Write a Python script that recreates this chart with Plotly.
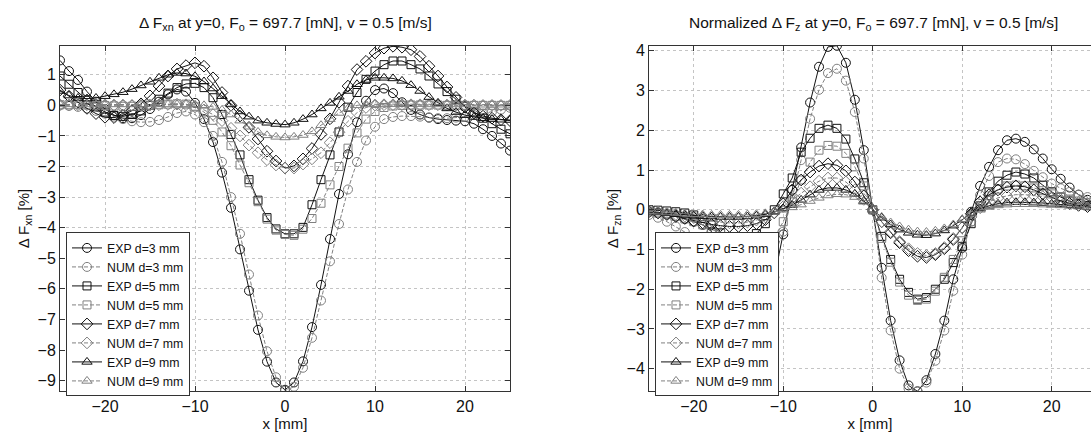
import plotly.graph_objects as go

# x positions [mm]
X_MM = list(range(-25, 26))

# ---------- Left panel: Delta F_xn [%] ----------
FXN_EXP_D3 = [1.47, 1.12, 0.83, 0.45, 0.12, -0.12, -0.32, -0.42, -0.42, -0.32, -0.12, 0.12, 0.36, 0.52, 0.45, 0.08,
              -0.45, -1.2, -2.2, -3.35, -4.71, -6.06, -7.34, -8.38, -9.06, -9.3, -9.06, -8.37, -7.25, -5.87, -4.37,
              -2.9, -1.6, -0.55, 0.15, 0.5, 0.55, 0.4, 0.1, -0.15, -0.3, -0.4, -0.45, -0.48, -0.5, -0.52, -0.6,
              -0.78, -1.0, -1.25, -1.48]
FXN_NUM_D3 = [0.0, -0.02, -0.05, -0.1, -0.18, -0.27, -0.37, -0.45, -0.52, -0.55, -0.54, -0.48, -0.38, -0.25, -0.2,
              -0.3, -0.55, -1.0, -1.85, -3.0, -4.2, -5.53, -6.87, -8.04, -8.89, -9.33, -9.2, -8.58, -7.6, -6.38,
              -5.1, -3.88, -2.75, -1.85, -1.15, -0.7, -0.45, -0.38, -0.35, -0.35, -0.37, -0.4, -0.42, -0.42, -0.4,
              -0.37, -0.32, -0.27, -0.2, -0.14, -0.08]
FXN_EXP_D5 = [0.96, 0.69, 0.42, 0.17, -0.05, -0.22, -0.33, -0.36, -0.3, -0.18, 0.0, 0.2, 0.4, 0.58, 0.7, 0.72,
              0.58, 0.25, -0.3, -0.95, -1.62, -2.43, -3.1, -3.67, -4.04, -4.2, -4.2, -3.99, -3.25, -2.43, -1.62,
              -0.87, -0.06, 0.42, 0.85, 1.12, 1.33, 1.45, 1.45, 1.33, 1.19, 0.96, 0.7, 0.45, 0.2, -0.02, -0.22,
              -0.42, -0.6, -0.78, -0.93]
FXN_NUM_D5 = [0.02, 0.02, 0.02, 0.01, 0.0, -0.01, -0.02, -0.03, -0.03, -0.02, 0.0, 0.02, 0.04, 0.05, 0.04, -0.05,
              -0.22, -0.49, -0.87, -1.32, -1.95, -2.53, -3.15, -3.72, -4.08, -4.22, -4.25, -4.05, -3.7, -3.2, -2.6,
              -2.0, -1.4, -0.9, -0.45, -0.2, -0.07, -0.02, 0.0, 0.01, 0.01, 0.01, 0.01, 0.0, 0.0, 0.0, 0.0, 0.0,
              0.0, 0.0, 0.0]
FXN_EXP_D7 = [0.5, 0.3, 0.1, -0.1, -0.27, -0.39, -0.4, -0.33, -0.17, 0.05, 0.31, 0.63, 0.96, 1.19, 1.3, 1.39, 1.28,
              0.9, 0.42, 0.0, -0.35, -0.72, -1.1, -1.5, -1.82, -2.05, -1.98, -1.75, -1.41, -0.95, -0.44, 0.1, 0.63,
              1.17, 1.44, 1.71, 1.87, 1.93, 1.9, 1.82, 1.6, 1.28, 0.96, 0.6, 0.26, -0.06, -0.25, -0.35, -0.42,
              -0.47, -0.5]
FXN_NUM_D7 = [0.02, 0.02, 0.02, 0.02, 0.02, 0.02, 0.01, 0.01, 0.0, 0.0, 0.01, 0.02, 0.03, 0.04, 0.02, -0.05, -0.15,
              -0.3, -0.5, -0.75, -1.0, -1.3, -1.55, -1.78, -1.95, -2.05, -2.05, -1.92, -1.75, -1.55, -1.22, -0.88,
              -0.52, -0.24, -0.07, 0.01, 0.02, 0.02, 0.02, 0.02, 0.02, 0.02, 0.02, 0.01, 0.01, 0.01, 0.01, 0.0,
              0.0, 0.0, 0.0]
FXN_EXP_D9 = [0.47, 0.32, 0.24, 0.22, 0.24, 0.3, 0.36, 0.43, 0.53, 0.65, 0.77, 0.9, 1.0, 1.06, 1.04, 0.95, 0.78,
              0.55, 0.3, 0.03, -0.2, -0.37, -0.5, -0.57, -0.61, -0.63, -0.57, -0.45, -0.3, -0.1, 0.08, 0.28, 0.47,
              0.69, 0.83, 0.9, 0.9, 0.88, 0.8, 0.66, 0.47, 0.27, 0.08, -0.1, -0.22, -0.32, -0.38, -0.42, -0.45,
              -0.47, -0.48]
FXN_NUM_D9 = [0.03, 0.03, 0.03, 0.03, 0.03, 0.03, 0.03, 0.03, 0.03, 0.03, 0.03, 0.03, 0.03, 0.03, 0.03, 0.02, 0.0,
              -0.05, -0.15, -0.3, -0.5, -0.7, -0.87, -0.98, -1.03, -1.05, -1.03, -0.97, -0.85, -0.65, -0.45, -0.25,
              -0.1, 0.0, 0.03, 0.04, 0.04, 0.04, 0.04, 0.04, 0.04, 0.03, 0.03, 0.03, 0.03, 0.03, 0.02, 0.02, 0.02,
              0.02, 0.02]

# ---------- Right panel: normalized Delta F_zn [%] ----------
FZN_EXP_D3 = [-0.05, -0.08, -0.12, -0.17, -0.23, -0.3, -0.38, -0.55, -0.79, -1.05, -1.35, -1.65, -1.9, -2.1, -1.7,
              -0.62, 0.5, 1.57, 2.7, 3.6, 4.1, 4.13, 3.7, 2.77, 1.5, 0.0, -1.46, -2.79, -3.79, -4.42, -4.57, -4.29,
              -3.63, -2.79, -1.75, -0.96, -0.05, 0.6, 1.08, 1.5, 1.75, 1.79, 1.71, 1.52, 1.29, 1.02, 0.78, 0.56,
              0.38, 0.25, 0.15]
FZN_NUM_D3 = [-0.13, -0.2, -0.3, -0.42, -0.56, -0.71, -0.88, -1.05, -1.22, -1.38, -1.5, -1.58, -1.6, -1.5, -1.15,
              -0.55, 0.3, 1.25, 2.29, 3.02, 3.44, 3.55, 3.25, 2.46, 1.29, 0.0, -1.71, -3.04, -4.0, -4.5, -4.57,
              -4.35, -3.8, -3.04, -2.04, -1.13, -0.3, 0.37, 0.85, 1.2, 1.29, 1.27, 1.15, 0.98, 0.82, 0.66, 0.54,
              0.45, 0.38, 0.32, 0.27]
FZN_EXP_D5 = [0.0, -0.01, -0.03, -0.05, -0.08, -0.13, -0.22, -0.38, -0.58, -0.75, -0.8, -0.78, -0.6, -0.35, 0.0,
              0.4, 0.8, 1.45, 1.8, 2.05, 2.13, 2.05, 1.78, 1.28, 0.68, 0.0, -0.67, -1.25, -1.75, -2.08, -2.25,
              -2.21, -2.0, -1.75, -1.33, -0.92, -0.35, 0.1, 0.45, 0.72, 0.87, 0.95, 0.9, 0.8, 0.62, 0.45, 0.32,
              0.22, 0.15, 0.1, 0.06]
FZN_NUM_D5 = [-0.05, -0.08, -0.12, -0.17, -0.23, -0.3, -0.38, -0.48, -0.6, -0.72, -0.85, -0.95, -1.0, -0.95, -0.7,
              -0.3, 0.2, 0.75, 1.2, 1.5, 1.62, 1.6, 1.42, 1.08, 0.6, 0.0, -0.72, -1.32, -1.82, -2.15, -2.28, -2.25,
              -2.05, -1.7, -1.25, -0.78, -0.3, 0.1, 0.35, 0.52, 0.6, 0.62, 0.6, 0.55, 0.48, 0.4, 0.33, 0.27, 0.22,
              0.18, 0.14]
FZN_EXP_D7 = [-0.05, -0.08, -0.12, -0.17, -0.22, -0.28, -0.33, -0.37, -0.4, -0.42, -0.42, -0.4, -0.35, -0.25, -0.08,
              0.15, 0.5, 0.75, 0.95, 1.1, 1.16, 1.12, 0.98, 0.7, 0.35, 0.0, -0.3, -0.58, -0.83, -1.03, -1.17, -1.2,
              -1.13, -0.98, -0.75, -0.45, -0.1, 0.2, 0.38, 0.5, 0.57, 0.6, 0.58, 0.5, 0.4, 0.3, 0.22, 0.16, 0.11,
              0.08, 0.05]
FZN_NUM_D7 = [-0.04, -0.06, -0.09, -0.12, -0.16, -0.2, -0.24, -0.28, -0.31, -0.33, -0.33, -0.31, -0.26, -0.18,
              -0.07, 0.08, 0.25, 0.42, 0.58, 0.72, 0.8, 0.8, 0.7, 0.5, 0.26, 0.0, -0.3, -0.55, -0.8, -0.98, -1.1,
              -1.15, -1.1, -0.95, -0.72, -0.45, -0.18, 0.05, 0.2, 0.3, 0.35, 0.38, 0.38, 0.36, 0.33, 0.3, 0.26,
              0.22, 0.19, 0.16, 0.13]
FZN_EXP_D9 = [-0.05, -0.07, -0.09, -0.11, -0.13, -0.15, -0.16, -0.17, -0.18, -0.18, -0.18, -0.17, -0.15, -0.11,
              -0.05, 0.03, 0.12, 0.25, 0.38, 0.5, 0.55, 0.55, 0.5, 0.4, 0.22, 0.0, -0.2, -0.37, -0.5, -0.58, -0.63,
              -0.64, -0.6, -0.52, -0.4, -0.25, -0.08, 0.03, 0.1, 0.15, 0.18, 0.19, 0.19, 0.18, 0.17, 0.15, 0.13,
              0.11, 0.09, 0.07, 0.05]
FZN_NUM_D9 = [-0.04, -0.05, -0.07, -0.08, -0.1, -0.11, -0.12, -0.13, -0.13, -0.13, -0.13, -0.12, -0.11, -0.09,
              -0.05, 0.0, 0.06, 0.13, 0.22, 0.3, 0.36, 0.39, 0.38, 0.32, 0.2, 0.0, -0.18, -0.32, -0.42, -0.5, -0.55,
              -0.56, -0.53, -0.47, -0.37, -0.24, -0.1, 0.0, 0.07, 0.11, 0.13, 0.14, 0.14, 0.14, 0.13, 0.12, 0.11,
              0.1, 0.08, 0.07, 0.06]

LEGEND_NAMES = ["EXP d=3 mm", "NUM d=3 mm", "EXP d=5 mm", "NUM d=5 mm",
                "EXP d=7 mm", "NUM d=7 mm", "EXP d=9 mm", "NUM d=9 mm"]
LEFT_SERIES = [FXN_EXP_D3, FXN_NUM_D3, FXN_EXP_D5, FXN_NUM_D5, FXN_EXP_D7, FXN_NUM_D7, FXN_EXP_D9, FXN_NUM_D9]
RIGHT_SERIES = [FZN_EXP_D3, FZN_NUM_D3, FZN_EXP_D5, FZN_NUM_D5, FZN_EXP_D7, FZN_NUM_D7, FZN_EXP_D9, FZN_NUM_D9]

SYMBOLS = ["circle-open", "circle-open", "square-open", "square-open",
           "diamond-open", "diamond-open", "triangle-up-open", "triangle-up-open"]
SIZES = [9, 9, 8, 8, 9, 9, 9, 9]
EXP_COLOR = "#111111"
NUM_COLOR = "#808080"

FONT = "Arial, 'Liberation Sans', Helvetica, sans-serif"
W, H = 1091, 438

fig = go.Figure()

for panel, series, xa, ya, leg in [(0, LEFT_SERIES, "x", "y", "legend"),
                                   (1, RIGHT_SERIES, "x2", "y2", "legend2")]:
    for i, (name, vals) in enumerate(zip(LEGEND_NAMES, series)):
        is_exp = (i % 2 == 0)
        col = EXP_COLOR if is_exp else NUM_COLOR
        fig.add_trace(go.Scatter(
            x=X_MM, y=vals, name=name, mode="lines+markers",
            xaxis=xa, yaxis=ya, legend=leg,
            line=dict(color=col, width=1, dash="solid" if is_exp else "4px,2px"),
            marker=dict(symbol=SYMBOLS[i], size=SIZES[i], color=col, line=dict(color=col, width=1)),
        ))

# pixel geometry
def px_x(p):
    return p / W

def px_y(p):
    return 1 - p / H

Y_DOM = [px_y(391), px_y(43)]

axis_common = dict(
    showline=True, linecolor="#333333", linewidth=1,
    ticks="inside", ticklen=5, tickcolor="#333333",
    showgrid=True, gridcolor="#c4c4c4", griddash="dot", gridwidth=1,
    zeroline=False,
    tickfont=dict(family=FONT, size=16, color="#111111"),
    title_font=dict(family=FONT, size=15, color="#111111"),
)

LEG_FONT = dict(family=FONT, size=12.3, color="#111111")

fig.update_layout(
    width=W, height=H,
    margin=dict(l=0, r=0, t=0, b=0),
    paper_bgcolor="white", plot_bgcolor="white",
    font=dict(family=FONT, color="#111111"),
    xaxis=dict(domain=[px_x(60), px_x(510)], range=[-25, 25], tickvals=[-20, -10, 0, 10, 20],
               anchor="y", mirror="ticks", title=dict(text="x [mm]", standoff=3), **axis_common),
    yaxis=dict(domain=Y_DOM, range=[-9.35, 1.95], tickvals=list(range(-9, 2)),
               anchor="x", mirror="ticks", title=dict(text="\u0394 F<sub>xn</sub> [%]", standoff=4), **axis_common),
    xaxis2=dict(domain=[px_x(649), 1.0], range=[-25, 24.39], tickvals=[-20, -10, 0, 10, 20],
                anchor="y2", mirror="ticks", title=dict(text="x [mm]", standoff=3), **axis_common),
    yaxis2=dict(domain=Y_DOM, range=[-4.57, 4.13], tickvals=list(range(-4, 5)),
                anchor="x2", mirror=False, title=dict(text="\u0394 F<sub>zn</sub> [%]", standoff=4), **axis_common),
    legend=dict(x=px_x(66), y=px_y(231), xanchor="left", yanchor="top",
                bgcolor="white", bordercolor="#333333", borderwidth=1,
                font=LEG_FONT, tracegroupgap=0),
    legend2=dict(x=px_x(655), y=px_y(231), xanchor="left", yanchor="top",
                 bgcolor="white", bordercolor="#333333", borderwidth=1,
                 font=LEG_FONT, tracegroupgap=0),
    annotations=[
        dict(text="\u0394 F<sub>xn</sub> at y=0, F<sub>o</sub> = 697.7 [mN], v = 0.5 [m/s]",
             x=px_x(285), y=px_y(21), xref="paper", yref="paper", xanchor="center", yanchor="middle",
             showarrow=False, font=dict(family=FONT, size=15.5, color="#111111")),
        dict(text="Normalized \u0394 F<sub>z</sub> at y=0, F<sub>o</sub> = 697.7 [mN], v = 0.5 [m/s]",
             x=px_x(873), y=px_y(21), xref="paper", yref="paper", xanchor="center", yanchor="middle",
             showarrow=False, font=dict(family=FONT, size=15.5, color="#111111")),
    ],
)

fig.write_html("out.html", config={"displayModeBar": False},
               post_script="document.body.style.margin='0';document.body.style.overflow='hidden';")
